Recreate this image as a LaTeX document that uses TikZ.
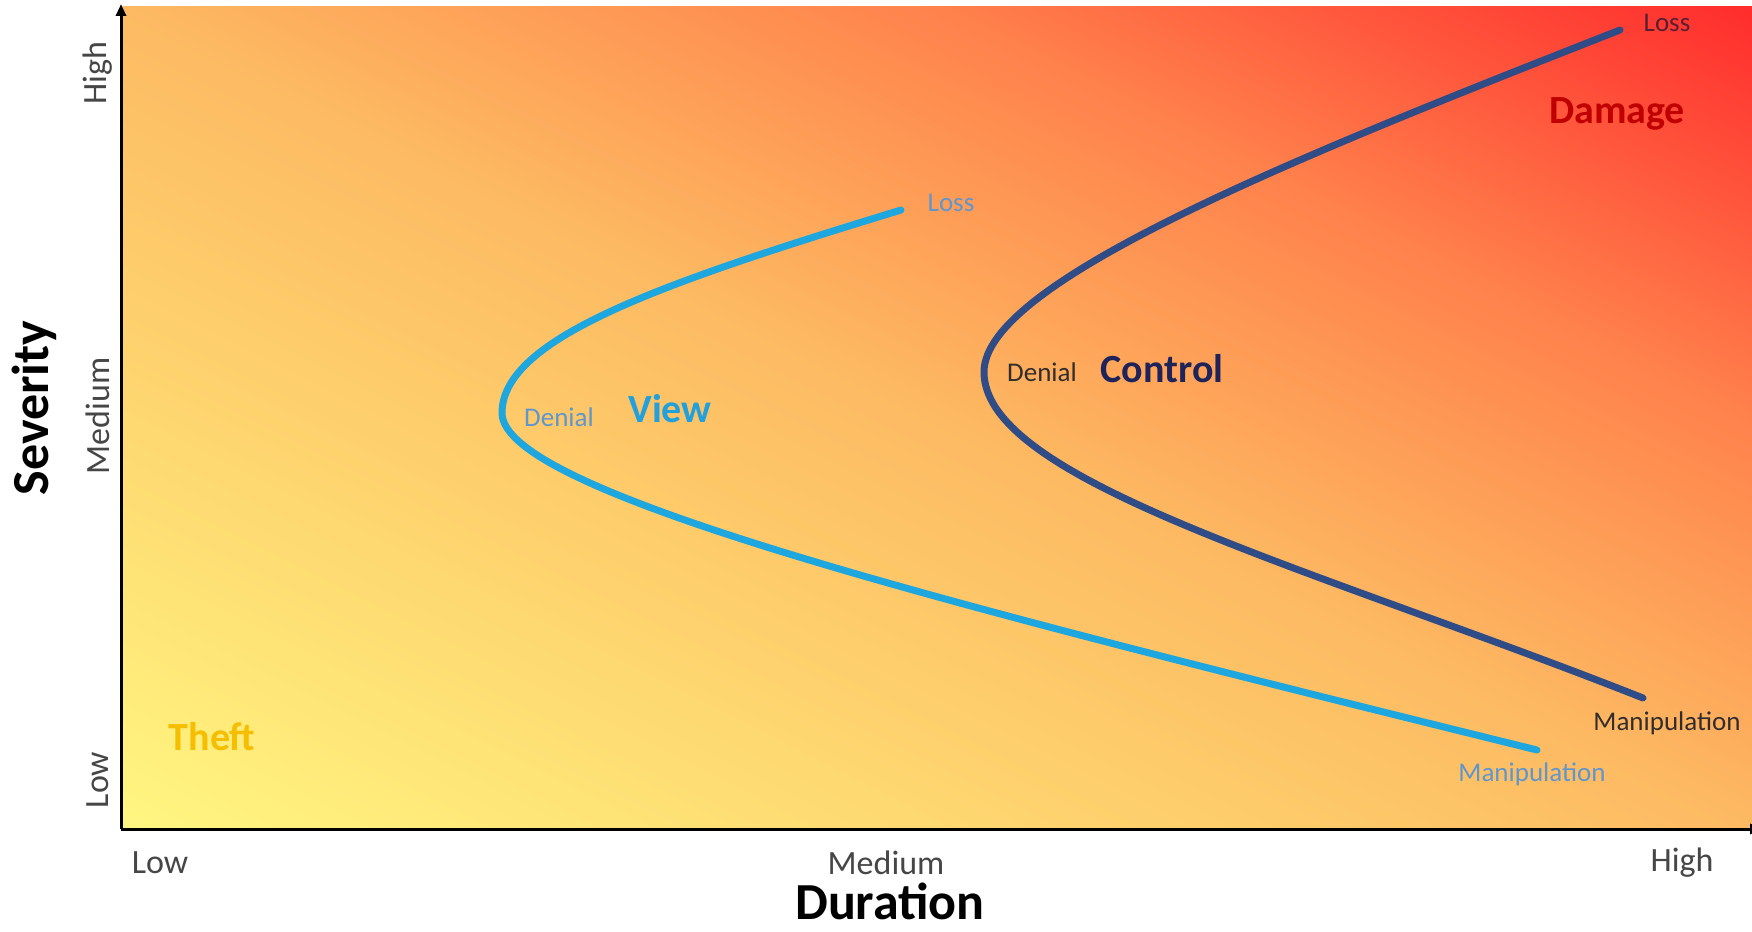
\documentclass[tikz,border=0pt]{standalone}
\usepackage{fontspec}
\setmainfont{Carlito}
\usetikzlibrary{arrows.meta}
\definecolor{cyel}{RGB}{255,246,128}
\definecolor{corange}{RGB}{253,186,98}
\definecolor{corred}{RGB}{255,130,76}
\definecolor{cred}{RGB}{255,45,45}
\definecolor{viewblue}{RGB}{30,166,222}
\definecolor{ctrlblue}{RGB}{48,76,135}
\definecolor{viewtext}{RGB}{32,160,220}
\definecolor{ctrltext}{RGB}{30,35,90}
\definecolor{smallblue}{RGB}{95,150,205}
\definecolor{smalldark}{RGB}{50,45,45}
\definecolor{lossdark}{RGB}{90,30,50}
\definecolor{damagered}{RGB}{192,0,0}
\definecolor{theftgold}{RGB}{245,190,0}
\definecolor{axisgray}{RGB}{70,70,70}
\pgfdeclarehorizontalshading{bgshade}{100bp}{color(0bp)=(cyel); color(14.64bp)=(cyel); color(50bp)=(corange); color(67.68bp)=(corred); color(85.36bp)=(cred); color(100bp)=(cred)}
\begin{document}
\begin{tikzpicture}[x=1pt,y=-1pt,
  txt/.style={inner sep=0pt, anchor=center},
  axislbl/.style={txt, font=\fontsize{34}{34}\selectfont, text=axisgray},
  axistitle/.style={txt, font=\fontsize{52}{52}\selectfont\bfseries, text=black},
  small/.style={txt, font=\fontsize{27}{27}\selectfont},
  big/.style={txt, font=\fontsize{40}{40}\selectfont\bfseries},
  axisline/.style={line width=3pt, black, -{Triangle[length=12pt,width=10pt]}},
  viewcurve/.style={line width=7pt, viewblue, line cap=round},
  ctrlcurve/.style={line width=7pt, ctrlblue, line cap=round}]
\useasboundingbox[fill=white] (0,0) rectangle (1752,931);
% background gradient (diagonal, scaled with the plot area)
\begin{scope}[transform canvas={shift={(121pt,-829pt)}, xscale=16.31, yscale=8.22}]
  \shade[shading=bgshade, shading angle=45] (0pt,0pt) rectangle (100pt,100pt);
\end{scope}
% axes
\coordinate (O) at (121,829);
\coordinate (ytop) at (121,4);
\coordinate (xend) at (1762,829);
\draw[axisline] (O) -- (ytop);
\draw[axisline] (O) -- (xend);
% axis labels
\node[axislbl, rotate=90] (yhigh) at (98,73) {High};
\node[axislbl, rotate=90] (ymed) at (98,416) {Medium};
\node[axislbl, rotate=90] (ylow) at (98,780) {Low};
\node[axistitle, rotate=90] (sev) at (34,408) {Severity};
\node[axislbl] (xlow) at (160,863) {Low};
\node[axislbl] (xmed) at (886,863) {Medium};
\node[axislbl] (xhigh) at (1682,863) {High};
\node[axistitle] (dur) at (890,901) {Duration};
% curve end points and vertices
\coordinate (vL) at (901,210);
\coordinate (vV) at (502,413);
\coordinate (vM) at (1537,750);
\coordinate (cL) at (1620,30);
\coordinate (cV) at (984,372);
\coordinate (cM) at (1643,698);
% curves
\draw[viewcurve] (vL) .. controls (662,283) and (502,338) .. (vV)
                      .. controls (502,493) and (954,606) .. (vM);
\draw[ctrlcurve] (cL) .. controls (1294,158) and (984,282) .. (cV)
                      .. controls (984,482) and (1317,569) .. (cM);
% labels
\node[big, text=theftgold] (theft) at (212,737) {Theft};
\node[big, text=damagered] (damage) at (1617,114) {Damage};
\node[big, text=viewtext] (view) at (670,409) {View};
\node[big, text=ctrltext] (control) at (1162,369) {Control};
\node[small, text=smallblue] (vden) at (559,417) {Denial};
\node[small, text=smalldark] (cden) at (1042,372) {Denial};
\node[small, text=smallblue] (vloss) at (951,203) {Loss};
\node[small, text=lossdark] (closs) at (1667,23) {Loss};
\node[small, text=smalldark] (cman) at (1667,723) {Manipulation};
\node[small, text=smallblue] (vman) at (1532,774) {Manipulation};
\end{tikzpicture}
\end{document}
